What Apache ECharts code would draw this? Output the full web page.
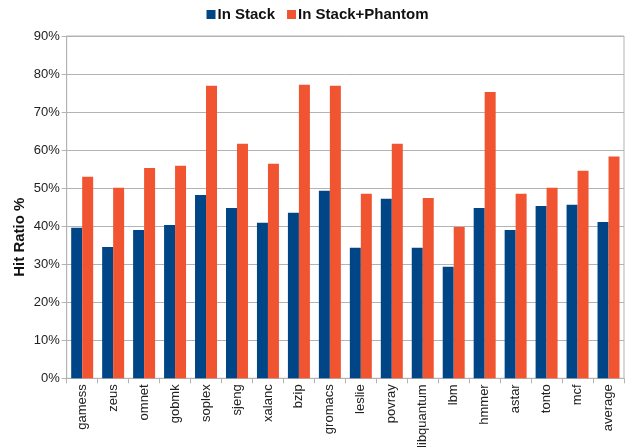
<!DOCTYPE html>
<html>
<head>
<meta charset="utf-8">
<script src="https://cdn.jsdelivr.net/npm/echarts@6/dist/echarts.min.js"></script>
<style>
  html, body { margin: 0; padding: 0; background: #fff; }
  #chart { width: 635px; height: 447px; }
</style>
</head>
<body>
<div id="chart"></div>
<script>
// Benchmarks on the category axis
const benchmarks = ['gamess', 'zeus', 'omnet', 'gobmk', 'soplex', 'sjeng', 'xalanc', 'bzip',
  'gromacs', 'leslie', 'povray', 'libquantum', 'lbm', 'hmmer', 'astar', 'tonto', 'mcf', 'average'];

// Hit ratio (%) per benchmark
const inStack = [39.6, 34.5, 39.0, 40.3, 48.2, 44.8, 40.9, 43.5,
  49.3, 34.3, 47.2, 34.3, 29.3, 44.8, 39.0, 45.3, 45.6, 41.1];
const inStackPhantom = [53.0, 50.1, 55.3, 55.9, 76.9, 61.7, 56.4, 77.2,
  76.9, 48.5, 61.7, 47.4, 39.8, 75.3, 48.5, 50.1, 54.6, 58.3];

// Value axis range
const yMin = 0, yMax = 90, yStep = 10;

const chart = echarts.init(document.getElementById('chart'), null, { renderer: 'canvas' });
const font = 'Liberation Sans, Arial, sans-serif';

chart.setOption({
  animation: false,
  backgroundColor: '#ffffff',
  textStyle: { fontFamily: font },
  legend: {
    top: 2,
    left: 'center',
    icon: 'rect',
    itemWidth: 9,
    itemHeight: 9,
    itemGap: 12,
    textStyle: { fontFamily: font, fontSize: 15, fontWeight: 'bold', color: '#111', padding: [0, 0, 0, -3] },
    data: ['In Stack', 'In Stack+Phantom']
  },
  grid: {
    left: 66.7,
    right: 11,
    top: 36,
    bottom: 68.7,
    outerBoundsMode: 'none',
    containLabel: false,
    show: true,
    borderColor: '#b3b3b3',
    borderWidth: 1
  },
  xAxis: {
    type: 'category',
    data: benchmarks,
    axisLine: { lineStyle: { color: '#b3b3b3' } },
    axisTick: { show: true, length: 5, lineStyle: { color: '#b3b3b3' } },
    axisLabel: { rotate: 90, fontSize: 13, color: '#222', margin: 6, fontFamily: font, interval: 0 }
  },
  yAxis: {
    type: 'value',
    min: yMin,
    max: yMax,
    interval: yStep,
    name: 'Hit Ratio %',
    nameLocation: 'middle',
    nameGap: 39,
    nameMoveOverlap: false,
    nameTextStyle: { fontSize: 15, fontWeight: 'bold', color: '#111', fontFamily: font, padding: [0, 60, 0, 0] },
    axisLine: { show: true, lineStyle: { color: '#b3b3b3' } },
    axisTick: { show: true, length: 5, lineStyle: { color: '#b3b3b3' } },
    axisLabel: { formatter: '{value}%', fontSize: 13, color: '#222', margin: 7, fontFamily: font },
    splitLine: { show: true, lineStyle: { color: '#b3b3b3', width: 1 } }
  },
  series: [
    {
      name: 'In Stack',
      type: 'bar',
      data: inStack,
      itemStyle: { color: '#004586' },
      barGap: '0%',
      barCategoryGap: '29%'
    },
    {
      name: 'In Stack+Phantom',
      type: 'bar',
      data: inStackPhantom,
      itemStyle: { color: '#f05430' },
      barGap: '0%',
      barCategoryGap: '29%'
    }
  ]
});
</script>
</body>
</html>
